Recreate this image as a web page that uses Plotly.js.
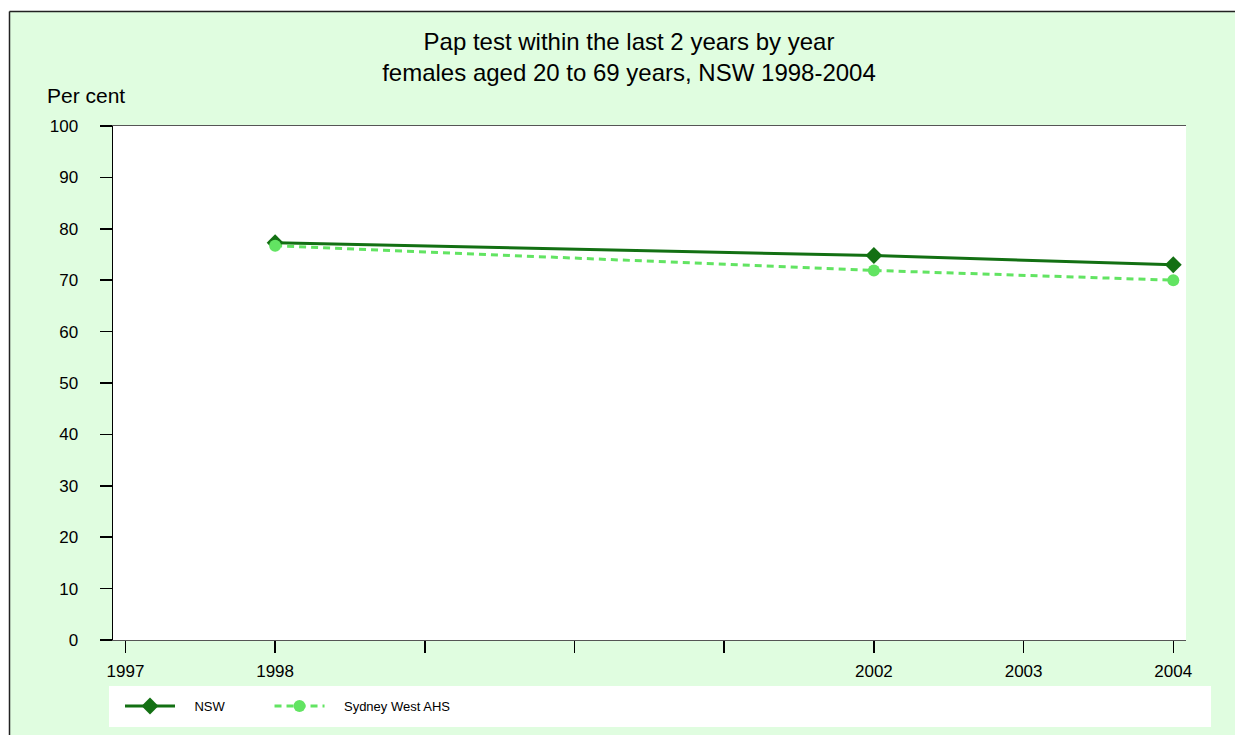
<!DOCTYPE html>
<html>
<head>
<meta charset="utf-8">
<script src="https://cdn.plot.ly/plotly-3.0.1.min.js"></script>
<style>html,body{margin:0;padding:0;background:#fff;}#chart{width:1235px;height:735px;}</style>
</head>
<body>
<div id="chart"></div>
<script>
var years = [1998, 2002, 2004];
var nswValues = [77.3, 74.8, 73.0];
var swahsValues = [76.7, 71.9, 70.0];
var seriesNames = ["NSW", "Sydney West AHS"];
var xTickVals = [1997, 1998, 1999, 2000, 2001, 2002, 2003, 2004];
var xTickText = ["1997", "1998", "", "", "", "2002", "2003", "2004"];
var yTickVals = [0, 10, 20, 30, 40, 50, 60, 70, 80, 90, 100];

var W = 1235, H = 735;
var mL = 113, mR = 49, mT = 126, mB = 95;
var pw = W - mL - mR, ph = H - mT - mB;
function px(x) { return (x - mL) / pw; }
function py(y) { return (H - mB - y) / ph; }

var font = "Arial, 'Liberation Sans', sans-serif";
var lead = "\u00a0\u00a0\u00a0\u00a0";
var trail = new Array(12).join("\u00a0");

var traces = [
  {
    x: years, y: nswValues, name: lead + seriesNames[0] + trail, type: "scatter", mode: "lines+markers",
    line: {color: "#137013", width: 3},
    marker: {symbol: "diamond", size: 13, color: "#137013"}
  },
  {
    x: years, y: swahsValues, name: lead + seriesNames[1], type: "scatter", mode: "lines+markers",
    line: {color: "#62e462", width: 3, dash: "7px,5px"},
    marker: {symbol: "circle", size: 12, color: "#62e462"}
  }
];

var layout = {
  width: W, height: H,
  margin: {l: mL, r: mR, t: mT, b: mB, pad: 0},
  paper_bgcolor: "#e0fde0",
  plot_bgcolor: "#ffffff",
  font: {family: font, color: "#000", size: 17},
  title: {
    text: "Pap test within the last 2 years by year<br>females aged 20 to 69 years, NSW 1998-2004",
    font: {family: font, size: 24, color: "#000"},
    x: px(629), xref: "paper", xanchor: "center",
    y: 1 - 50 / H, yref: "container", yanchor: "middle"
  },
  showlegend: true,
  legend: {
    orientation: "h",
    x: px(120), xanchor: "left",
    y: py(706), yanchor: "middle",
    bgcolor: "rgba(0,0,0,0)",
    font: {family: font, size: 13, color: "#000"},
    itemwidth: 50
  },
  xaxis: {
    range: [1996.917, 2004.085],
    tickmode: "array", tickvals: xTickVals, ticktext: xTickText,
    ticks: "outside", ticklen: 12, tickwidth: 1.5, tickcolor: "#000",
    showgrid: false, zeroline: false,
    showline: true, linecolor: "#555", linewidth: 1, mirror: true,
    tickfont: {family: font, size: 17, color: "#000"},
    ticklabelstandoff: 4
  },
  yaxis: {
    range: [0, 100],
    tickmode: "array", tickvals: yTickVals,
    ticks: "outside", ticklen: 12, tickwidth: 1.5, tickcolor: "#000",
    showgrid: false, zeroline: false,
    showline: true, linecolor: "#000", linewidth: 1.5, mirror: false,
    tickfont: {family: font, size: 17, color: "#000"},
    ticklabelstandoff: 18
  },
  shapes: [
    {type: "rect", xref: "paper", yref: "paper", x0: px(-20), x1: px(9), y0: py(760), y1: py(-20),
     fillcolor: "#ffffff", line: {width: 0}, layer: "below"},
    {type: "rect", xref: "paper", yref: "paper", x0: px(-20), x1: px(1260), y0: py(11), y1: py(-20),
     fillcolor: "#ffffff", line: {width: 0}, layer: "below"},
    {type: "line", xref: "paper", yref: "paper", x0: px(9.5), x1: px(1260), y0: py(11.5), y1: py(11.5),
     line: {color: "#222", width: 1.5}},
    {type: "line", xref: "paper", yref: "paper", x0: px(9.5), x1: px(9.5), y0: py(11.5), y1: py(760),
     line: {color: "#222", width: 1.5}},
    {type: "rect", xref: "paper", yref: "paper", x0: px(109), x1: px(1211), y0: py(727), y1: py(686),
     fillcolor: "#ffffff", line: {width: 0}, layer: "below"}
  ],
  annotations: [
    {text: "Per cent", xref: "paper", yref: "paper", x: px(85.5), y: py(95),
     xanchor: "center", yanchor: "middle", showarrow: false,
     font: {family: font, size: 21, color: "#000"}}
  ]
};

Plotly.newPlot("chart", traces, layout, {displayModeBar: false, staticPlot: true});
</script>
</body>
</html>
